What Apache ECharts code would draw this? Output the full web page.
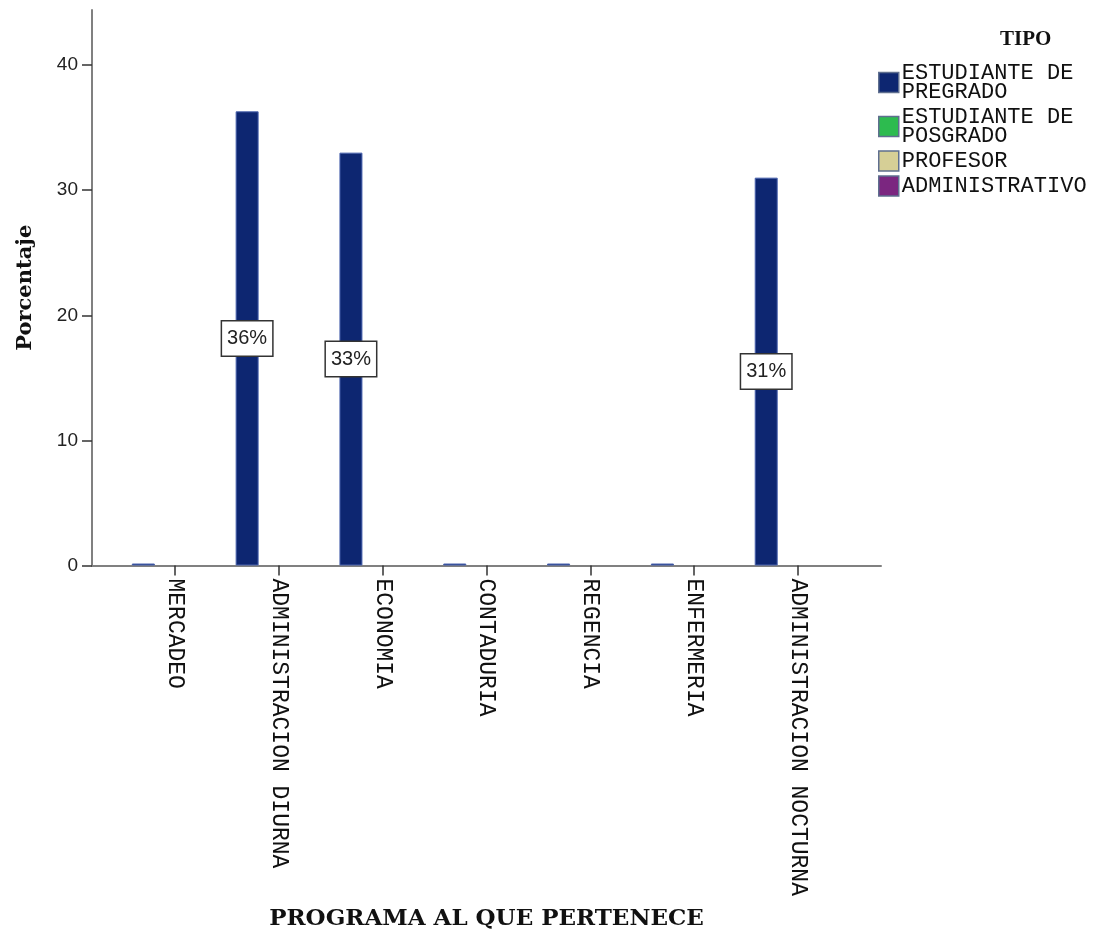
<!DOCTYPE html>
<html>
<head>
<meta charset="utf-8">
<script src="https://cdn.jsdelivr.net/npm/echarts@6/dist/echarts.min.js"></script>
<style>
  html, body { margin: 0; padding: 0; background: #fff; }
  #chart { width: 1097px; height: 936px; }
</style>
</head>
<body>
<div id="chart"></div>
<script>
const categories = ['MERCADEO', 'ADMINISTRACION DIURNA', 'ECONOMIA', 'CONTADURIA', 'REGENCIA', 'ENFERMERIA', 'ADMINISTRACION NOCTURNA'];
const seriesNames = ['ESTUDIANTE DE\nPREGRADO', 'ESTUDIANTE DE\nPOSGRADO', 'PROFESOR', 'ADMINISTRATIVO'];
const pregrado = [0, 36.3, 33.0, 0, 0, 0, 31.0];
const posgrado = [null, null, null, null, null, null, null];
const profesor = [null, null, null, null, null, null, null];
const administrativo = [null, null, null, null, null, null, null];
const yTicks = [0, 10, 20, 30, 40];
const xTicks = [0, 1, 2, 3, 4, 5, 6];

const colors = ['#0d2671', '#2dbb4f', '#d6cf96', '#7b2680'];

function toData(arr, withLabel) {
  return arr.map((v, i) => {
    const item = { value: [i, v] };
    if (withLabel) item.label = { show: v != null && v > 0 };
    return item;
  });
}

const chart = echarts.init(document.getElementById('chart'), null, { renderer: 'canvas' });

const labelStyle = {
  position: 'inside',
  formatter: p => Math.round(p.value[1]) + '%',
  fontFamily: 'Liberation Sans, Arial, sans-serif',
  fontSize: 20,
  color: '#222',
  backgroundColor: '#fff',
  borderColor: '#333',
  borderWidth: 1.5,
  padding: [8, 5, 6, 5]
};

const seriesArrays = [pregrado, posgrado, profesor, administrativo];
const series = seriesArrays.map((arr, k) => ({
  name: seriesNames[k],
  type: 'bar',
  data: toData(arr, k === 0),
  barWidth: 23,
  barGap: '-8%',
  barMinHeight: 2,
  z: 5,
  itemStyle: {
    color: colors[k],
    borderColor: k === 0 ? '#4a63ae' : colors[k],
    borderWidth: 1
  },
  label: k === 0 ? labelStyle : { show: false },
  emphasis: { disabled: true },
  animation: false
}));

chart.setOption({
  animation: false,
  backgroundColor: '#fff',
  title: {
    text: 'TIPO',
    left: 995,
    top: 24,
    textStyle: {
      fontFamily: 'Liberation Serif, Times New Roman, serif',
      fontWeight: 'bold',
      fontSize: 21,
      color: '#111'
    }
  },
  legend: {
    orient: 'vertical',
    left: 878,
    top: 62,
    padding: 0,
    itemGap: 3,
    itemWidth: 20,
    itemHeight: 20,
    icon: 'rect',
    selectedMode: false,
    itemStyle: { borderColor: '#5f6f8f', borderWidth: 1.5 },
    textStyle: {
      fontFamily: 'Liberation Mono, Courier New, monospace',
      fontSize: 22,
      lineHeight: 19,
      color: '#111',
      padding: [0, 0, 0, -2]
    },
    data: seriesNames
  },
  grid: {
    left: 92,
    right: 216,
    top: 10,
    bottom: 370.5,
    containLabel: false,
    outerBoundsMode: 'none'
  },
  xAxis: {
    type: 'value',
    min: -0.8,
    max: 6.8,
    name: 'PROGRAMA AL QUE PERTENECE',
    nameLocation: 'middle',
    nameGap: 342,
    nameTextStyle: {
      fontFamily: 'DejaVu Serif, serif',
      fontWeight: 'bold',
      fontSize: 23,
      color: '#111'
    },
    axisLine: { show: true, onZero: false, lineStyle: { color: '#808080', width: 2 } },
    axisTick: { show: true, customValues: xTicks, length: 10, lineStyle: { color: '#333', width: 1.5 } },
    axisLabel: {
      customValues: xTicks,
      rotate: -90,
      margin: 13,
      formatter: v => categories[Math.round(v)] || '',
      fontFamily: 'Liberation Mono, Courier New, monospace',
      fontSize: 23,
      color: '#111'
    },
    splitLine: { show: false }
  },
  yAxis: {
    type: 'value',
    min: 0,
    max: 44.4,
    name: 'Porcentaje',
    nameLocation: 'middle',
    nameGap: 56,
    nameTextStyle: {
      fontFamily: 'DejaVu Serif, serif',
      fontWeight: 'bold',
      fontSize: 21,
      color: '#111'
    },
    axisLine: { show: true, onZero: false, lineStyle: { color: '#808080', width: 2 } },
    axisTick: { show: true, customValues: yTicks, length: 10, lineStyle: { color: '#333', width: 1.5 } },
    axisLabel: {
      customValues: yTicks,
      margin: 14,
      fontFamily: 'Liberation Sans, Arial, sans-serif',
      fontSize: 19,
      color: '#222'
    },
    splitLine: { show: false }
  },
  series: series
});
</script>
</body>
</html>
